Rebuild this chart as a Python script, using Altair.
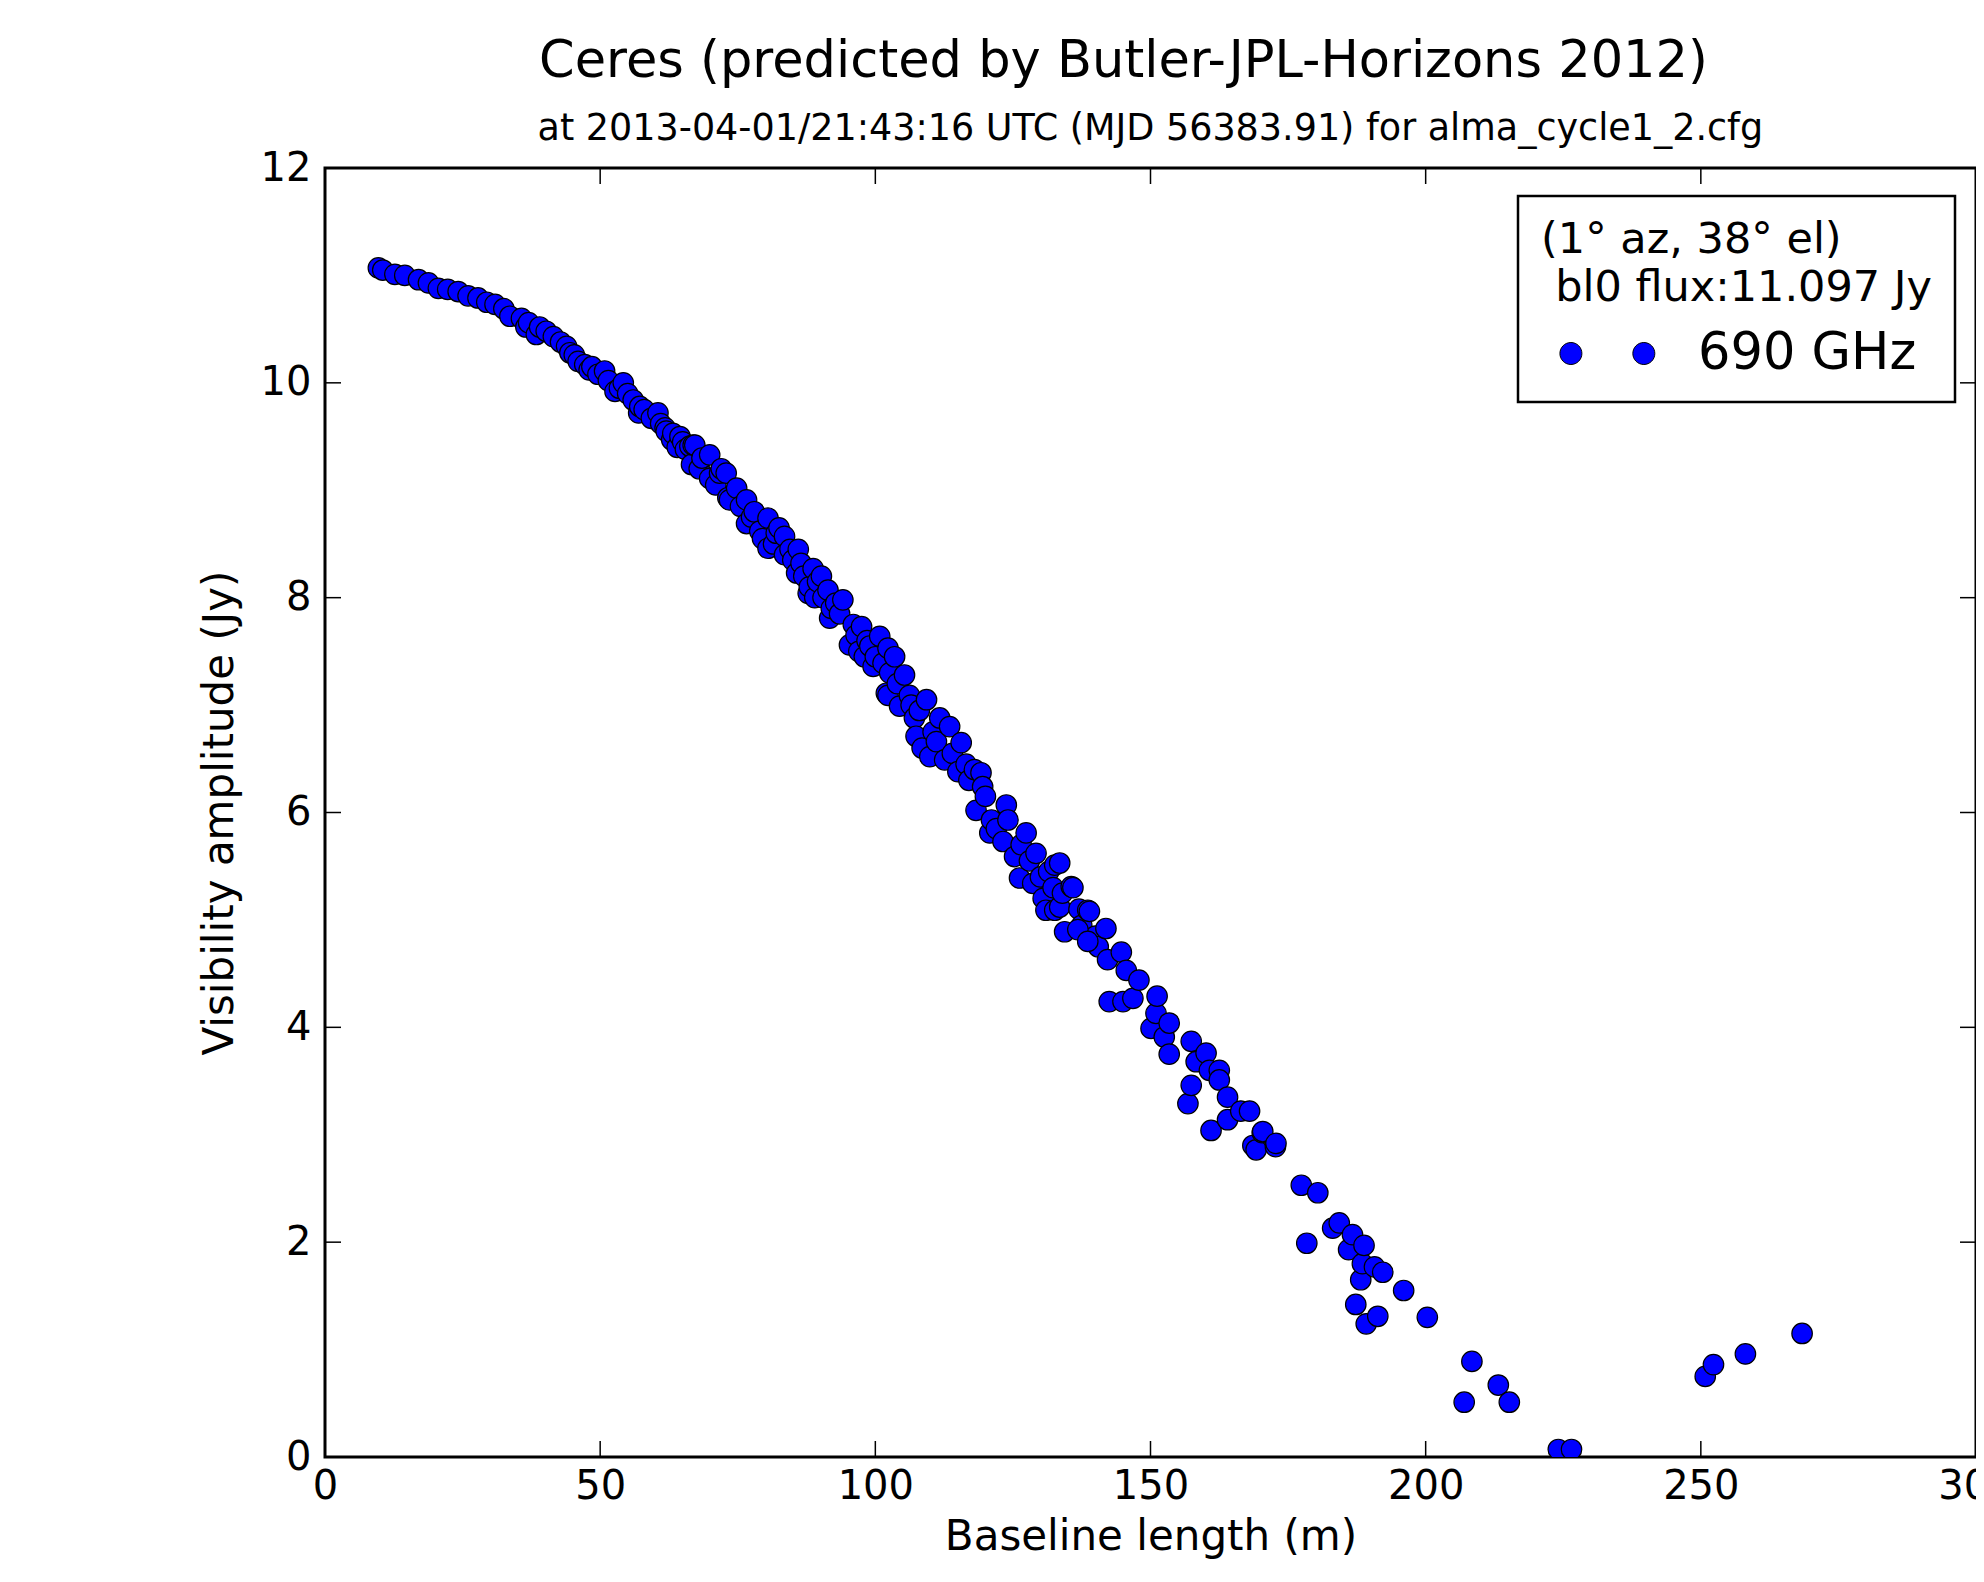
import altair as alt
import pandas as pd

# ---- data (baseline length in m, amplitude in Jy) ----
xA = [9.7, 10.5, 12.7, 14.5, 17.0, 18.8, 20.6, 22.3, 24.2, 26.0, 27.8, 29.4, 30.9, 32.5, 33.6,
      35.7, 36.5, 37.0, 38.4, 39.0, 40.2, 41.5, 42.8, 43.9, 44.5, 45.3, 46.0, 47.2, 48.0, 48.5,
      49.6, 50.8, 51.5, 52.7, 53.5, 54.2, 55.0, 56.0, 57.0, 57.2, 58.0, 59.3, 60.5, 61.0, 61.8,
      62.0, 63.0, 63.2, 64.0, 64.5, 65.0, 65.5, 66.3, 66.6, 66.9, 67.2, 68.0, 68.5, 69.9, 69.9,
      71.0, 71.7, 72.0, 72.9, 73.2, 73.5, 74.8]
yA = [11.07, 11.05, 11.01, 11.0, 10.96, 10.93, 10.88, 10.87, 10.85, 10.81, 10.79, 10.75, 10.73, 10.69, 10.62,
      10.60, 10.52, 10.56, 10.45, 10.52, 10.48, 10.43, 10.38, 10.34, 10.28, 10.26, 10.2, 10.17, 10.12, 10.15,
      10.08, 10.11, 10.02, 9.92, 9.95, 10.0, 9.9, 9.84, 9.72, 9.78, 9.75, 9.67, 9.72, 9.62, 9.58,
      9.55, 9.47, 9.53, 9.4, 9.5, 9.45, 9.38, 9.41, 9.24, 9.42, 9.42, 9.2, 9.3, 9.33, 9.11,
      9.05, 9.16, 9.2, 9.16, 8.93, 8.91, 9.02]

xB = [75.5, 76.6, 76.6, 77.5, 78.0, 79.0, 79.5, 80.5, 80.5, 81.5, 82.0, 82.5, 83.5, 83.5, 84.5,
      85.0, 85.7, 86.0, 86.5, 87.0, 87.8, 88.0, 88.7, 89.0, 89.5, 90.2, 90.5, 91.4, 91.7, 92.0,
      92.8, 93.5, 94.1, 95.3, 96.0, 96.5, 97.0, 97.5, 98.0, 98.5, 99.0, 99.6, 100.0, 100.8]
yB = [8.85, 8.91, 8.69, 8.75, 8.8, 8.62, 8.55, 8.74, 8.46, 8.5, 8.6, 8.65, 8.57, 8.40, 8.45,
      8.35, 8.23, 8.45, 8.32, 8.2, 8.04, 8.1, 8.27, 8.0, 8.15, 8.2, 8.0, 8.07, 7.81, 7.9,
      7.95, 7.85, 7.98, 7.56, 7.75, 7.65, 7.5, 7.73, 7.45, 7.6, 7.55, 7.36, 7.45, 7.64]

xC = [101.4, 102.0, 102.3, 102.6, 102.3, 103.5, 104.0, 104.4, 105.3, 106.2, 106.5, 107.1, 107.4, 108.0, 108.5,
      109.3, 109.9, 110.5, 111.1, 111.7, 112.6, 113.5, 114.0, 115.0, 115.6, 116.5, 117.0, 118.0, 118.3, 119.2,
      119.5, 120.0, 120.8, 121.1, 122.0, 123.2, 123.8, 124.1, 125.3, 126.2, 126.5, 127.4, 128.0, 128.6, 129.2,
      130.0, 130.5, 131.0, 131.5, 132.3, 132.6, 132.6, 133.5, 133.5, 134.0, 134.4, 135.6, 135.9, 137.0, 137.5,
      140.0, 140.5]
yC = [7.39, 7.11, 7.53, 7.30, 7.09, 7.45, 7.2, 6.99, 7.28, 7.09, 7.0, 6.88, 6.71, 6.95, 6.6,
      7.05, 6.52, 6.75, 6.66, 6.88, 6.49, 6.80, 6.55, 6.38, 6.65, 6.45, 6.3, 6.4, 6.02, 6.37,
      6.24, 6.15, 5.81, 5.93, 5.85, 5.73, 6.07, 5.93, 5.59, 5.39, 5.7, 5.81, 5.55, 5.34, 5.62,
      5.4, 5.2, 5.09, 5.45, 5.30, 5.51, 5.09, 5.53, 5.12, 5.25, 4.89, 5.31, 5.30, 5.1, 4.95,
      4.85, 4.75]

xD = [136.8, 138.6, 138.6, 138.9, 141.9, 142.2, 142.5, 144.7, 145.0, 145.6, 146.8, 147.9, 150.1, 151.0, 151.2,
      152.5, 153.4, 153.4, 156.8, 157.4, 157.4, 158.3, 160.1, 160.7, 161.0, 162.5, 162.5, 164.0, 164.0, 166.4,
      168.0, 168.6, 169.2, 170.3, 170.4, 172.7, 172.8]
yD = [4.91, 4.80, 5.09, 5.08, 4.92, 4.63, 4.24, 4.70, 4.24, 4.53, 4.27, 4.44, 3.99, 4.13, 4.29,
      3.91, 4.04, 3.75, 3.29, 3.87, 3.46, 3.68, 3.76, 3.60, 3.04, 3.60, 3.51, 3.35, 3.14, 3.22,
      3.22, 2.90, 2.86, 3.02, 3.03, 2.89, 2.92]

xE = [177.4, 178.4, 180.4, 183.1, 184.3, 186.0, 186.7, 187.3, 188.2, 188.5, 188.8, 189.2, 190.7, 191.3, 192.2,
      196.0, 200.3, 207.0, 208.4, 213.2, 215.2, 224.1, 226.5, 250.8, 252.3, 258.1, 268.4]
yE = [2.53, 1.99, 2.46, 2.13, 2.18, 1.93, 2.07, 1.42, 1.65, 1.80, 1.97, 1.24, 1.77, 1.31, 1.72,
      1.55, 1.30, 0.51, 0.89, 0.67, 0.51, 0.07, 0.07, 0.75, 0.86, 0.96, 1.15]

x_ticks = [0, 50, 100, 150, 200, 250, 300]
y_ticks = [0, 2, 4, 6, 8, 10, 12]
series_name = "690 GHz"

title_text = "Ceres (predicted by Butler-JPL-Horizons 2012)"
subtitle_text = "\u200b\u00a0\u00a0\u00a0\u00a0\u2009at 2013-04-01/21:43:16 UTC (MJD 56383.91) for alma_cycle1_2.cfg"
legend_title = ["(1°  az, 38°  el)", "\u200b\u2004bl0 flux:11.097 Jy"]

baseline_m = xA + xB + xC + xD + xE
amplitude_jy = yA + yB + yC + yD + yE
assert len(baseline_m) == len(amplitude_jy)

df = pd.DataFrame({"baseline": baseline_m, "amp": amplitude_jy,
                   "freq": [series_name] * len(baseline_m)})
xt_df = pd.DataFrame({"xt": x_ticks})
yt_df = pd.DataFrame({"yt": y_ticks})

W, H = 1651, 1289
FONT = "DejaVu Sans"
TICK = 16

xs = alt.Scale(domain=[0, 300], nice=False, zero=False)
ys = alt.Scale(domain=[0, 12], nice=False, zero=False)

x_axis = alt.Axis(values=x_ticks, title="Baseline length (m)", ticks=False, domain=False, grid=False,
                  labelFlush=False, labelOverlap=False, labelFontSize=40, titleFontSize=42,
                  labelPadding=9, titlePadding=10, labelColor="black", titleColor="black",
                  titleFontWeight="normal", labelFont=FONT, titleFont=FONT, format="d")
y_axis = alt.Axis(values=y_ticks, title="Visibility amplitude (Jy)", ticks=False, domain=False, grid=False,
                  labelFlush=False, labelOverlap=False, labelFontSize=40, titleFontSize=42,
                  labelPadding=14, titlePadding=19, labelColor="black", titleColor="black",
                  titleFontWeight="normal", labelFont=FONT, titleFont=FONT, format="d")

two_dots = ("M-0.6,0 a1,1 0 1,0 2,0 a1,1 0 1,0 -2,0 "
            "M6.03,0 a1,1 0 1,0 2,0 a1,1 0 1,0 -2,0")

legend = alt.Legend(title=legend_title, orient="none", legendX=1193, legendY=28, padding=23,
                    strokeColor="black", fillColor="white", titleFontSize=43, titleFont=FONT,
                    titleFontWeight="normal", titleColor="black", titleLineHeight=48, titlePadding=18,
                    titleLimit=1000, labelLimit=1000, labelFontSize=51, labelFont=FONT,
                    labelColor="black", labelOffset=106, symbolType=two_dots, symbolSize=484,
                    symbolStrokeColor="black", symbolStrokeWidth=1)

points = alt.Chart(df).mark_circle(size=420, stroke="black", strokeWidth=1.2, opacity=1, clip=True).encode(
    x=alt.X("baseline:Q", scale=xs, axis=x_axis),
    y=alt.Y("amp:Q", scale=ys, axis=y_axis),
    color=alt.Color("freq:N", scale=alt.Scale(domain=[series_name], range=["#0000ff"]), legend=legend),
)

xt_bottom = alt.Chart(xt_df).mark_rule(color="black", strokeWidth=1.5).encode(
    x=alt.X("xt:Q", scale=xs), y=alt.value(H), y2=alt.value(H - TICK))
xt_top = alt.Chart(xt_df).mark_rule(color="black", strokeWidth=1.5).encode(
    x=alt.X("xt:Q", scale=xs), y=alt.value(0), y2=alt.value(TICK))
yt_left = alt.Chart(yt_df).mark_rule(color="black", strokeWidth=1.5).encode(
    y=alt.Y("yt:Q", scale=ys), x=alt.value(0), x2=alt.value(TICK))
yt_right = alt.Chart(yt_df).mark_rule(color="black", strokeWidth=1.5).encode(
    y=alt.Y("yt:Q", scale=ys), x=alt.value(W), x2=alt.value(W - TICK))

chart = alt.layer(xt_bottom, xt_top, yt_left, yt_right, points).properties(
    width=W, height=H,
    title=alt.TitleParams(text=title_text, subtitle=subtitle_text, fontSize=51, subtitleFontSize=36.5,
                          font=FONT, subtitleFont=FONT, fontWeight="normal", color="black",
                          subtitleColor="black", anchor="middle", frame="group", dx=-27,
                          offset=0, subtitlePadding=23),
    autosize=alt.AutoSizeParams(type="none"),
    padding={"left": 317, "top": 160, "right": 0, "bottom": 117},
).configure_view(stroke="black", strokeWidth=3).configure_legend(strokeWidth=2.5)

chart.save("out.html", embed_options={"renderer": "svg", "actions": False})
